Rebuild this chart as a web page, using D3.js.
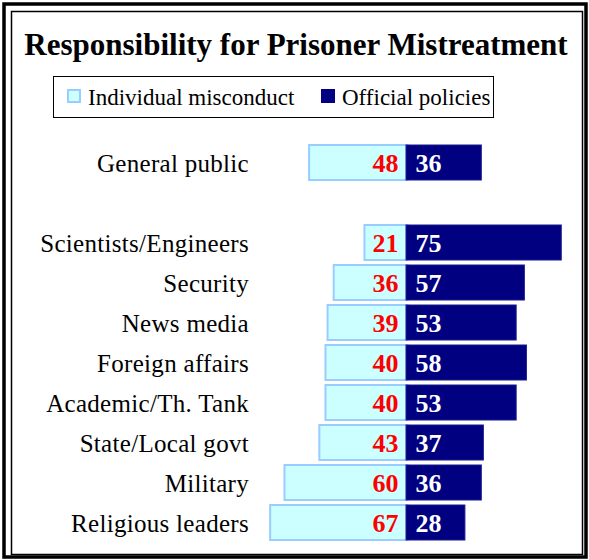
<!DOCTYPE html>
<html>
<head>
<meta charset="utf-8">
<script src="https://d3js.org/d3.v7.min.js"></script>
<style>
body, html {
    margin: 0;
    padding: 0;
    background: #fff;
}
svg text {
  font-family: "Liberation Serif", "Times New Roman", serif;
}
.cat {
  font-size: 25px;
  letter-spacing: 0.3px;
  fill: #000;
}
.val {
  font-size: 26px;
  font-weight: bold;
}
</style>
</head>
<body>
<div id="chart"></div>
<script>

var width = 589,
    height = 560;

// data
var categories = ["General public", "Scientists/Engineers", "Security", "News media",
  "Foreign affairs", "Academic/Th. Tank", "State/Local govt", "Military", "Religious leaders"];
var individual = [48, 21, 36, 39, 40, 40, 43, 60, 67];
var official = [36, 75, 57, 53, 58, 53, 37, 36, 28];
var seriesNames = ["Individual misconduct", "Official policies"];

var lightFill = "#ccffff", lightStroke = "#99ccff", dark = "#000080";
var serif = "'Liberation Serif', 'Times New Roman', serif";

var svg = d3.select("#chart").append("svg")
  .attr("width", width)
  .attr("height", height);

// frame (double border)
svg.append("rect")
  .attr("x", 4).attr("y", 4)
  .attr("width", 582).attr("height", 553)
  .attr("fill", "none").attr("stroke", "#000").attr("stroke-width", 3.5);
svg.append("rect")
  .attr("x", 11.5).attr("y", 11.5)
  .attr("width", 571).attr("height", 543)
  .attr("fill", "none").attr("stroke", "#000").attr("stroke-width", 1.5);

svg.append("text")
  .attr("x", 296).attr("y", 55)
  .attr("text-anchor", "middle")
  .style("font-family", serif)
  .style("font-size", "31px").style("font-weight", "bold")
  .text("Responsibility for Prisoner Mistreatment");

// legend
var legend = svg.append("g");
legend.append("rect")
  .attr("x", 53.5).attr("y", 76.5)
  .attr("width", 440).attr("height", 41)
  .attr("fill", "#fff").attr("stroke", "#000").attr("stroke-width", 1);
var legX = [67, 321];
seriesNames.forEach(function(name, i) {
  legend.append("rect")
    .attr("x", legX[i] + 1).attr("y", 90)
    .attr("width", 12).attr("height", 12)
    .attr("fill", i == 0 ? lightFill : dark)
    .attr("stroke", i == 0 ? lightStroke : dark)
    .attr("stroke-width", 2);
  legend.append("text")
    .attr("x", legX[i] + 21).attr("y", 105)
    .style("font-family", serif)
    .style("font-size", "23px")
    .text(name);
});

// scales
var slot = function(i) { return i == 0 ? 0 : i + 1; };  // blank row after general public
var y = d3.scaleBand()
  .domain(d3.range(categories.length + 1))
  .range([142.5, 542.5])
  .paddingInner(0.125)
  .paddingOuter(0.0625);
var x = d3.scaleLinear()
  .domain([-70, 80])
  .range([264, 571.5]);

var rows = svg.selectAll("g.row")
  .data(categories)
  .enter().append("g")
  .attr("class", "row")
  .attr("transform", function(d, i) { return "translate(0," + y(slot(i)) + ")"; });

var bh = y.bandwidth();

rows.append("rect")
  .attr("x", function(d, i) { return x(-individual[i]); })
  .attr("y", 0)
  .attr("width", function(d, i) { return x(0) - x(-individual[i]); })
  .attr("height", bh)
  .attr("fill", lightFill)
  .attr("stroke", lightStroke)
  .attr("stroke-width", 2);

rows.append("rect")
  .attr("x", x(0) - 1.5)
  .attr("y", 0)
  .attr("width", function(d, i) { return x(official[i]) - x(0) + 1.5; })
  .attr("height", bh)
  .attr("fill", dark)
  .attr("stroke", "#1a1a90")
  .attr("stroke-width", 1);

rows.append("text")
  .attr("class", "cat")
  .attr("x", 249)
  .attr("y", bh / 2 + 9)
  .attr("text-anchor", "end")
  .style("font-family", serif)
  .text(function(d) { return d; });

rows.append("text")
  .attr("class", "val")
  .attr("x", x(0) - 9)
  .attr("y", bh / 2 + 9)
  .attr("text-anchor", "end")
  .attr("fill", "#ff0000")
  .style("font-family", serif)
  .text(function(d, i) { return individual[i]; });

rows.append("text")
  .attr("class", "val")
  .attr("x", x(0) + 8)
  .attr("y", bh / 2 + 9)
  .attr("fill", "#fff")
  .style("font-family", serif)
  .text(function(d, i) { return official[i]; });

</script>
</body>
</html>
